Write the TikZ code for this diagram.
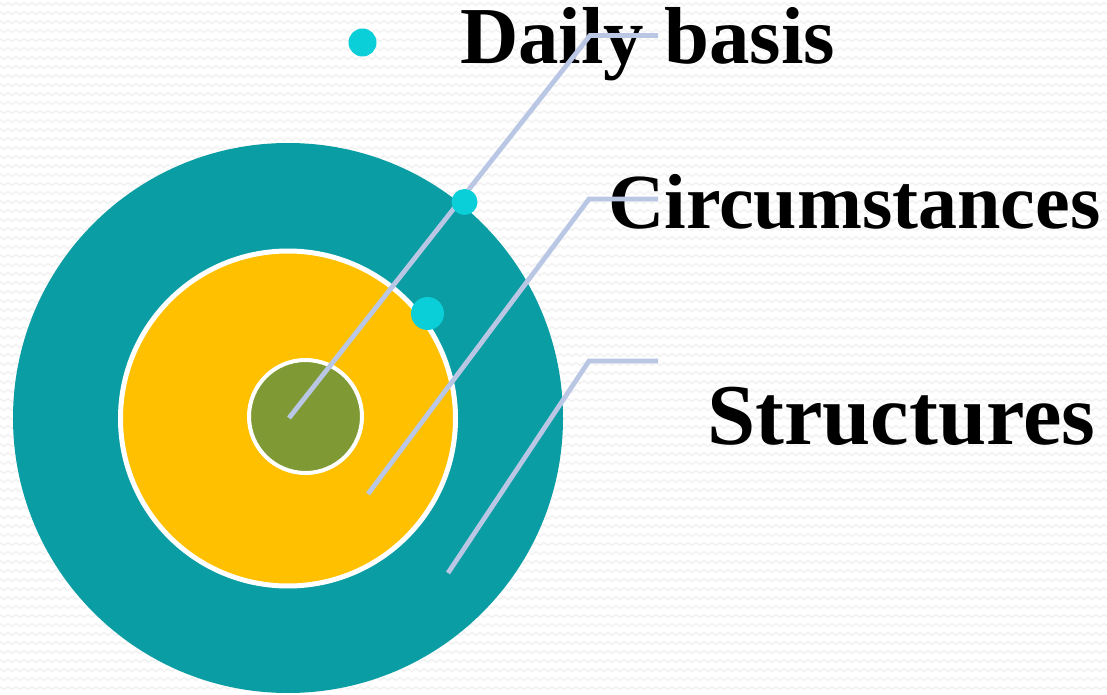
\documentclass[tikz,border=0pt]{standalone}
\usepackage{fontspec}
\setmainfont{Liberation Serif}
\usetikzlibrary{decorations.pathmorphing}
\definecolor{tealc}{HTML}{0A9DA3}
\definecolor{yellc}{HTML}{FFC000}
\definecolor{olivec}{HTML}{7F9A35}
\definecolor{cyanc}{HTML}{0BCFD8}
\definecolor{linec}{HTML}{B9C7E4}
\definecolor{bgz}{HTML}{F2F2F2}
\tikzset{
  disc/.style={circle, inner sep=0pt, outer sep=0pt},
  conn/.style={linec, line width=3.6pt},
  dotc/.style={disc, fill=cyanc},
  lbl/.style={inner sep=0pt, outer sep=0pt, anchor=base west, text=black},
  zz/.style={bgz, line width=1.1pt, decorate, decoration={zigzag, segment length=6pt, amplitude=1.1pt}}
}
\begin{document}
\begin{tikzpicture}[x=0.75pt, y=-0.75pt]
\useasboundingbox (0,0) rectangle (1107,695);
\fill[white] (0,0) rectangle (1107,695);
\begin{scope}
\clip (0,0) rectangle (1107,695);
\foreach \yy in {4,13,...,700} \draw[zz] (-10,\yy) -- (1120,\yy);
\end{scope}

% circles
\node[disc, fill=tealc, minimum size=412.5pt] (outer) at (288,418) {};
\node[disc, fill=yellc, draw=white, line width=3.75pt, minimum size=251.25pt] (middle) at (288,418.5) {};
\node[disc, fill=olivec, draw=white, line width=3pt, minimum size=84.75pt] (inner) at (305.5,416.5) {};

% labels
\node[lbl, font=\bfseries\fontsize{60.6}{60.6}\selectfont] (t1) at (460,64) {Daily basis};
\node[lbl, font=\bfseries\fontsize{58.5}{58.5}\selectfont] (t2) at (608,229) {Circumstances};
\node[lbl, font=\bfseries\fontsize{65}{65}\selectfont] (t3) at (707,444) {Structures};

% connector points
\coordinate (s1) at (289,418);
\coordinate (k1) at (590,35.5);
\coordinate (e1) at (658,35.5);
\coordinate (s2) at (368,494);
\coordinate (k2) at (589,199);
\coordinate (e2) at (658,199);
\coordinate (s3) at (448,573);
\coordinate (k3) at (589,361);
\coordinate (e3) at (658,361);

\draw[conn] (s1) -- (k1) -- (e1);
\draw[conn] (s2) -- (k2) -- (e2);
\draw[conn] (s3) -- (k3) -- (e3);

% dots
\node[dotc, minimum size=21pt] (bullet) at (362.5,42.5) {};
\node[dotc, minimum size=19.5pt] (d2) at (464.5,202) {};
\node[dotc, minimum size=24.75pt] (d3) at (427.5,313.5) {};
\end{tikzpicture}
\end{document}
